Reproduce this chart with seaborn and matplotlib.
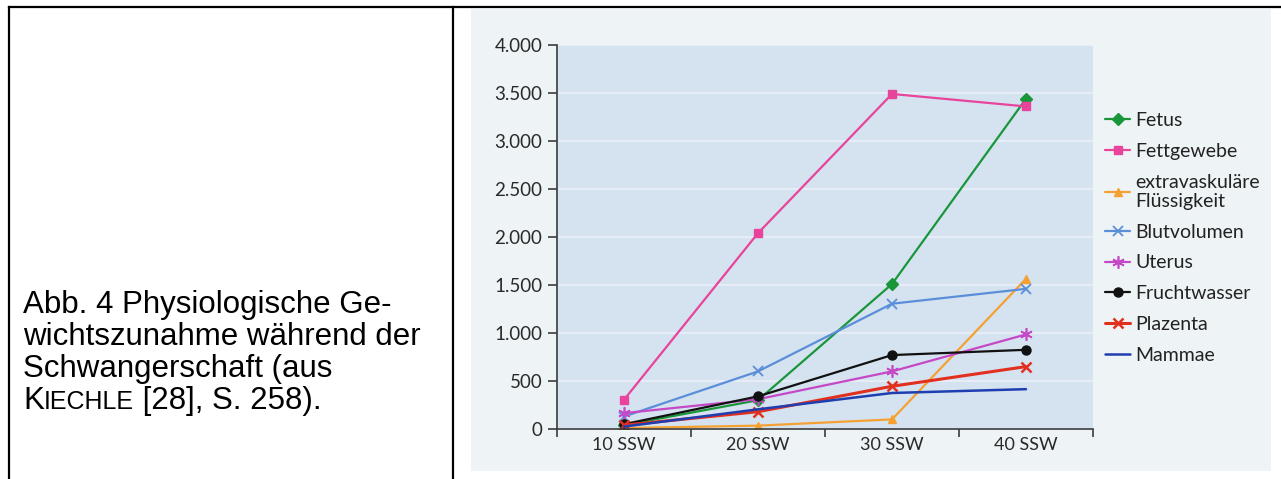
import numpy as np
import pandas as pd
import matplotlib
matplotlib.use("Agg")
import matplotlib.pyplot as plt
import seaborn as sns
from matplotlib.lines import Line2D
from matplotlib.patches import Rectangle
from matplotlib.ticker import FuncFormatter

# ---------------- data ----------------
categories = ["10 SSW", "20 SSW", "30 SSW", "40 SSW"]
fetus = [40, 300, 1510, 3440]
fettgewebe = [305, 2040, 3490, 3360]
extravaskulaer = [10, 35, 100, 1565]
blutvolumen = [130, 600, 1305, 1460]
uterus = [165, 310, 600, 985]
fruchtwasser = [50, 340, 770, 825]
plazenta = [40, 180, 445, 650]
mammae = [25, 205, 375, 415]

series_labels = ["Fetus", "Fettgewebe", "extravaskuläre\nFlüssigkeit", "Blutvolumen",
                 "Uterus", "Fruchtwasser", "Plazenta", "Mammae"]
y_ticks = [0, 500, 1000, 1500, 2000, 2500, 3000, 3500, 4000]

caption_lines = ["Abb. 4 Physiologische Ge-",
                 "wichtszunahme während der",
                 "Schwangerschaft (aus"]
caption_last = [("K", 1.0), ("IECHLE", 0.8), (" [28], S. 258).", 1.0)]

# ---------------- style ----------------
sns.set_theme(style="white")
plt.rcParams["font.family"] = ["Lato", "DejaVu Sans"]

W, H = 1281, 479
fig = plt.figure(figsize=(W / 100, H / 100), dpi=100)
fig.patch.set_facecolor("white")


def fx(px):
    return px / W


def fy(py):
    return 1 - py / H


# scanned chart background
fig.add_artist(Rectangle((fx(471), fy(471)), fx(1271) - fx(471), fy(9) - fy(471),
                         transform=fig.transFigure, facecolor="#eef3f6",
                         edgecolor="none", zorder=0))

# table borders
for (x0, y0, x1, y1) in [(9, 7, 1281, 7), (9, 7, 9, 479), (453, 7, 453, 479)]:
    fig.add_artist(Line2D([fx(x0), fx(x1)], [fy(y0), fy(y1)], transform=fig.transFigure,
                          color="black", lw=1.6, solid_capstyle="projecting"))

ax = fig.add_axes([fx(557), fy(429), fx(1093) - fx(557), fy(45) - fy(429)])
ax.set_facecolor("#d5e3f1")

styles = [
    (fetus, "#1a963a", "D", 6, 1.6, 1.0),
    (fettgewebe, "#e8449b", "s", 6, 1.6, 1.0),
    (extravaskulaer, "#f5a132", "^", 6, 1.6, 1.0),
    (blutvolumen, "#5b8ed8", "x", 7, 1.6, 1.3),
    (uterus, "#c548c6", (6, 2, 0), 9, 1.6, 1.2),
    (fruchtwasser, "#111111", "o", 6.5, 1.6, 1.0),
    (plazenta, "#e2301f", "x", 7, 2.2, 1.8),
    (mammae, "#1f3fb0", None, 0, 1.8, 1.0),
]

for label, (vals, color, marker, ms, lw, mew) in zip(series_labels, styles):
    sns.lineplot(x=categories, y=vals, ax=ax, color=color, marker=marker,
                 markersize=ms, linewidth=lw, markeredgecolor=color,
                 markeredgewidth=mew, label=label, sort=False)

ax.set_xlim(-0.5, 3.5)
ax.set_ylim(0, 4000)
ax.set_xticks(range(len(categories)))
ax.set_xticklabels(categories)
ax.set_xticks(np.arange(-0.5, len(categories), 1.0), minor=True)
ax.set_yticks(y_ticks)
ax.yaxis.set_major_formatter(FuncFormatter(lambda v, p: f"{int(v):,}".replace(",", ".")))
ax.set_xlabel("")
ax.set_ylabel("")

ax.yaxis.grid(True, color="#e8eff8", lw=1.3)
ax.xaxis.grid(False)
ax.set_axisbelow(True)

for s in ["top", "right"]:
    ax.spines[s].set_visible(False)
for s in ["left", "bottom"]:
    ax.spines[s].set_color("#3c3c3c")
    ax.spines[s].set_linewidth(1.2)

ax.tick_params(axis="x", which="major", bottom=True, length=0, pad=6,
               labelsize=13, labelcolor="#2a2a2a")
ax.tick_params(axis="x", which="minor", bottom=True, length=6, width=1.2,
               direction="out", color="#3c3c3c")
ax.tick_params(axis="y", which="major", left=True, length=6.5, width=1.2,
               direction="out", color="#3c3c3c", pad=4, labelsize=13.5,
               labelcolor="#2a2a2a")

leg = ax.legend(loc="upper left", bbox_to_anchor=(fx(1105), fy(112)),
                bbox_transform=fig.transFigure, frameon=False, fontsize=14,
                handlelength=1.3, handletextpad=0.25, labelspacing=0.71,
                borderpad=0, borderaxespad=0)
for t in leg.get_texts():
    t.set_color("#222222")
    t.set_linespacing(1.15)

# ---------------- caption ----------------
cap_size = 22.5
cap_font = "Liberation Sans"
baselines = [313, 345, 377, 409]
for txt, b in zip(caption_lines, baselines[:3]):
    fig.text(fx(23), fy(b), txt, fontsize=cap_size, family=cap_font,
             va="baseline", ha="left", color="black")

fig.canvas.draw()
renderer = fig.canvas.get_renderer()
xpos = 23
for piece, scale in caption_last:
    t = fig.text(fx(xpos), fy(baselines[3]), piece, fontsize=cap_size * scale,
                 family=cap_font, va="baseline", ha="left", color="black")
    bb = t.get_window_extent(renderer=renderer)
    xpos += bb.width

fig.savefig("out.png", dpi=100, facecolor="white")
